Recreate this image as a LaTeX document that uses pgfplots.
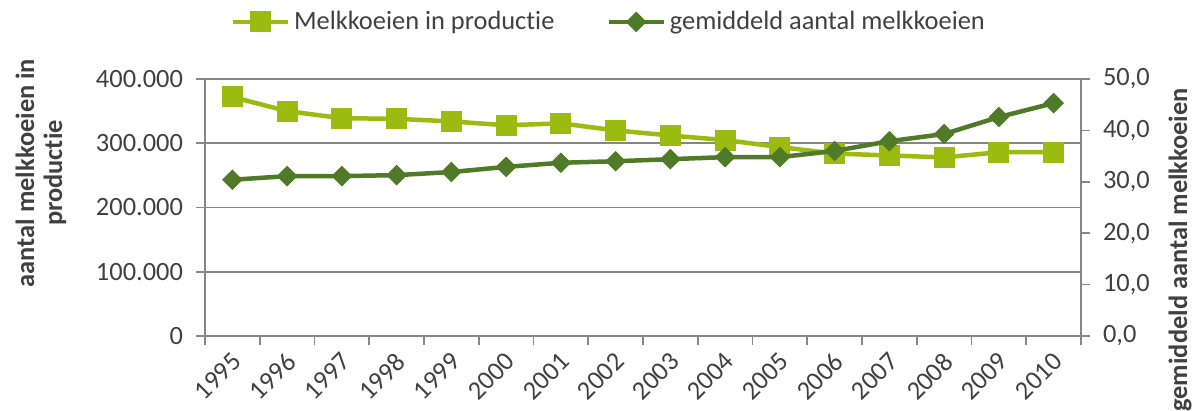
\documentclass[border=0pt]{standalone}
\usepackage{fontspec}
\setmainfont{Carlito}[Ligatures={NoCommon}]
\usepackage{pgfplots}
\pgfplotsset{compat=1.18}
\definecolor{lg}{RGB}{155,187,17}
\definecolor{dg}{RGB}{79,122,40}
\definecolor{gr}{RGB}{134,134,134}
\definecolor{tx}{RGB}{64,64,64}
\begin{document}
\begin{tikzpicture}
\pgfplotsset{
  every axis/.append style={
    scale only axis, width=438pt, height=128.5pt,
    at={(0pt,0pt)}, anchor=south west,
    xmin=-0.5, xmax=15.5,
    font=\fontsize{13.2}{16}\selectfont,
    tick label style={text=tx},
    tick style={color=gr, line width=0.8pt},
    axis line style={color=gr, line width=0.8pt},
    tick align=outside,
    major tick length=4.5pt,
  },
}
\begin{axis}[
  ymin=0, ymax=400000,
  scaled y ticks=false,
  ytick={0,100000,200000,300000,400000},
  yticklabels={0,100.000,200.000,300.000,400.000},
  yticklabel style={xshift=-3pt},
  axis x line*=bottom, axis y line*=left,
  ymajorgrids, grid style={color=gr, line width=0.8pt},
  xtick={-0.5,0.5,...,15.5},
  xticklabels={},
  extra x ticks={0,1,2,3,4,5,6,7,8,9,10,11,12,13,14,15},
  extra x tick labels={1995,1996,1997,1998,1999,2000,2001,2002,2003,2004,2005,2006,2007,2008,2009,2010},
  extra x tick style={major tick length=0pt, xticklabel style={xshift=-1pt, yshift=-6pt, rotate=45, anchor=north east, inner sep=1pt}},
  every axis y label/.style={at={(axis description cs:-0.1872,0.634)}, rotate=90, anchor=center, align=center, font=\fontsize{13.2}{14}\selectfont\bfseries, text=tx},
  ylabel={aantal melkkoeien in\\productie},
]
\addplot[lg, line width=2.25pt, mark=square*, mark size=5pt, mark options={solid, fill=lg, draw=lg, line width=0.5pt}]
coordinates {
(0,372000) (1,350000) (2,339000) (3,338000) (4,334000) (5,328000) (6,331000) (7,320000)
(8,312000) (9,305000) (10,294000) (11,284000) (12,281000) (13,278000) (14,286000) (15,286000)
};
\end{axis}
\begin{axis}[
  ymin=0, ymax=50,
  ytick={0,10,20,30,40,50},
  yticklabels={{0,0},{10,0},{20,0},{30,0},{40,0},{50,0}},
  yticklabel style={xshift=3pt},
  axis x line=none, axis y line*=right,
  every axis y label/.style={at={(axis description cs:1.113,0.335)}, rotate=90, anchor=center, font=\fontsize{13.2}{14}\selectfont\bfseries, text=tx},
  ylabel={gemiddeld aantal melkkoeien},
  legend style={at={(axis description cs:0.462,1.222)}, anchor=center, draw=none, fill=none, legend columns=2, text=tx,
    /tikz/every even column/.append style={column sep=24pt}},
  legend image code/.code={\draw[mark repeat=2,mark phase=2] plot coordinates {(0pt,0pt)(13.75pt,0pt)(27.5pt,0pt)};},
]
\addlegendimage{lg, line width=2.25pt, mark=square*, mark size=5pt, mark options={solid, fill=lg, draw=lg, line width=0.5pt}}
\addlegendentry{Melkkoeien in productie}
\addplot[dg, line width=2.25pt, mark=square*, mark size=3.4pt, mark options={solid, rotate=45, fill=dg, draw=dg, line width=0.5pt}]
coordinates {
(0,30.4) (1,31.1) (2,31.1) (3,31.3) (4,31.9) (5,32.9) (6,33.7) (7,34.0)
(8,34.4) (9,34.8) (10,34.8) (11,36.0) (12,37.9) (13,39.3) (14,42.6) (15,45.3)
};
\addlegendentry{gemiddeld aantal melkkoeien}
\end{axis}
\pgfresetboundingbox
\path[use as bounding box] (-102.5pt,-37.5pt) rectangle (494pt,168pt);
\end{tikzpicture}
\end{document}
